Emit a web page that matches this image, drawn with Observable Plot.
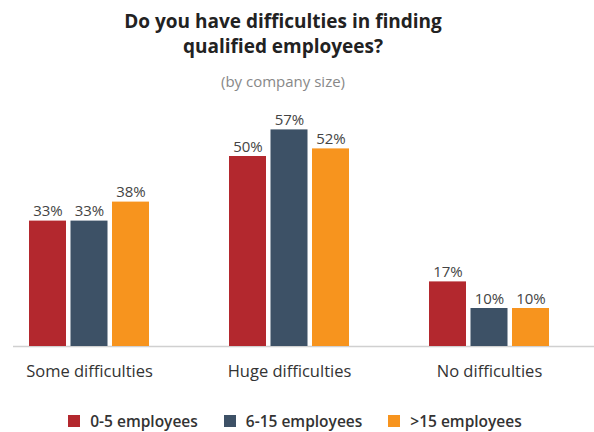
<!DOCTYPE html>
<html>
<head>
<meta charset="utf-8">
<script src="https://cdn.jsdelivr.net/npm/d3@7"></script>
<script src="https://cdn.jsdelivr.net/npm/@observablehq/plot@0.6"></script>
<style>
  html, body { margin: 0; padding: 0; background: #fff; }
  #wrap { width: 594px; height: 432px; position: relative; font-family: "Open Sans", Lato, sans-serif; }
  #title { position: absolute; top: 9px; left: 0; width: 566px; text-align: center; font-weight: 700; font-size: 19px; line-height: 25px; color: #222; }
  #subtitle { position: absolute; top: 71px; left: 0; width: 566px; text-align: center; font-size: 15px; color: #888; }
  #chart { position: absolute; top: 94px; left: 0; }
  #legend { position: absolute; top: 410px; left: 0; width: 590px; display: flex; justify-content: center; gap: 26px; font-size: 15.5px; font-weight: 600; color: #333; }
  #legend .item { display: flex; align-items: center; gap: 10px; }
  #legend .sw { width: 12px; height: 12px; display: inline-block; }
</style>
</head>
<body>
<div id="wrap">
  <div id="title">Do you have difficulties in finding<br>qualified employees?</div>
  <div id="subtitle">(by company size)</div>
  <div id="chart"></div>
  <div id="legend"></div>
</div>
<script>
const categories = ["Some difficulties", "Huge difficulties", "No difficulties"];
const series = ["0-5 employees", "6-15 employees", ">15 employees"];
const values0to5 = [33, 50, 17];
const values6to15 = [33, 57, 10];
const valuesOver15 = [38, 52, 10];
const colors = ["#b3282e", "#3d5166", "#f7941e"];

const seriesValues = [values0to5, values6to15, valuesOver15];
const data = [];
series.forEach((s, si) => categories.forEach((c, ci) => data.push({category: c, series: s, si, value: seriesValues[si][ci]})));

const barW = 37, gap = 4.5;
const marks = [];
marks.push(Plot.ruleY([0], {stroke: "#d0d0d0", strokeWidth: 1.5}));
series.forEach((s, si) => {
  const d = data.filter(r => r.si === si);
  const left = si * (barW + gap);
  const right = (2 - si) * (barW + gap);
  marks.push(Plot.barY(d, {x: "category", y: "value", fill: colors[si], insetLeft: left, insetRight: right}));
  marks.push(Plot.text(d, {x: "category", y: "value", text: r => r.value + "%", dx: (si - 1) * (barW + gap), dy: -5, lineAnchor: "bottom", fontSize: 15, fill: "#444"}));
});

const chart = Plot.plot({
  width: 594,
  height: 298,
  marginLeft: 13,
  marginRight: 0,
  marginTop: 24,
  marginBottom: 46,
  x: {domain: categories, range: [29, 549], paddingInner: 80 / 200, paddingOuter: 0, label: null, tickSize: 0, tickPadding: 19},
  y: {domain: [0, 60], axis: null},
  style: {fontFamily: "'Open Sans', Lato, sans-serif", fontSize: "16.5px", color: "#333", background: "transparent"},
  marks
});
document.getElementById("chart").appendChild(chart);

const legend = document.getElementById("legend");
series.forEach((s, i) => {
  const item = document.createElement("div");
  item.className = "item";
  const sw = document.createElement("span");
  sw.className = "sw";
  sw.style.background = colors[i];
  const t = document.createElement("span");
  t.textContent = s;
  item.appendChild(sw); item.appendChild(t);
  legend.appendChild(item);
});
</script>
</body>
</html>
